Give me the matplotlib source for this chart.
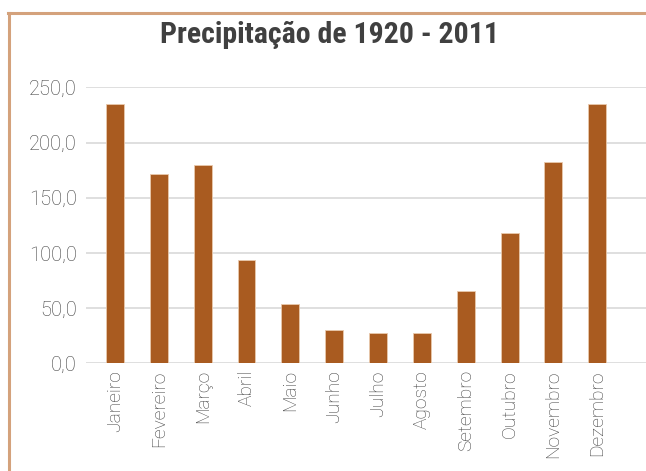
import matplotlib
matplotlib.use("Agg")
import matplotlib.pyplot as plt
from matplotlib.lines import Line2D
import numpy as np

# monthly precipitation (mm), 1920 - 2011
meses = ['Janeiro', 'Fevereiro', 'Março', 'Abril', 'Maio', 'Junho',
         'Julho', 'Agosto', 'Setembro', 'Outubro', 'Novembro', 'Dezembro']
precip = [234.5, 171.8, 179.6, 93.3, 53.4, 29.9, 27.7, 27.2, 65.2, 118.0, 182.3, 235.0]
yticks = [0, 50, 100, 150, 200, 250]

W, H = 646, 471
fig = plt.figure(figsize=(W / 100, H / 100), dpi=100)
ax = fig.add_axes([86 / W, (H - 363.3) / H, 560 / W, 276 / H])

x = np.arange(len(meses))
ax.bar(x, precip, width=0.41, color='#A95B20', edgecolor='#E9C9AC', linewidth=0.6, zorder=3)

ax.set_xlim(-0.66, 12.11)
ax.set_ylim(0, 250)
ax.set_yticks(yticks)
ax.set_yticklabels([f"{v:.1f}".replace('.', ',') for v in yticks])
ax.set_xticks(x)
ax.set_xticklabels(meses, rotation=90, va='top', ha='center')
ax.tick_params(axis='both', length=0, labelcolor='#3F3F3F')
ax.tick_params(axis='x', pad=5, labelsize=13.8)
ax.tick_params(axis='y', pad=6.5, labelsize=14.5)
for lab in ax.get_xticklabels() + ax.get_yticklabels():
    lab.set_fontfamily('Roboto')
    lab.set_fontweight('light')

ax.grid(axis='y', color='#D9D9D9', linewidth=1.2, zorder=0)
for s in ax.spines.values():
    s.set_visible(False)

fig.text(329 / W, 1 - 35 / H, 'Precipitação de 1920 - 2011', ha='center', va='center',
         fontsize=21.5, fontweight='bold', color='#404040',
         family=['Liberation Sans Narrow', 'Roboto Condensed', 'Roboto'])

# chart frame (cropped on right and bottom)
bc = '#D4A27C'
fig.add_artist(Line2D([9 / W, 9 / W], [0, 1 - 13 / H], transform=fig.transFigure, color=bc, lw=2.2))
fig.add_artist(Line2D([8 / W, 1], [1 - 13 / H, 1 - 13 / H], transform=fig.transFigure, color=bc, lw=2.2))

fig.savefig('out.png', dpi=100)
